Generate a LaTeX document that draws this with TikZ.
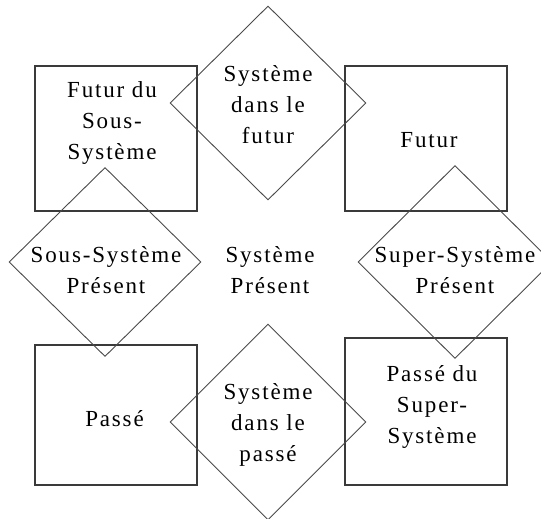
\documentclass[tikz,border=0pt]{standalone}
\usepackage{fontspec}
\setmainfont{Liberation Serif}[LetterSpace=8]
\usetikzlibrary{shapes.geometric}
\definecolor{edge1}{HTML}{3A3A3A}
\definecolor{edge2}{HTML}{4A4A4A}

\begin{document}
\begin{tikzpicture}[x=1pt,y=-1pt,
  box/.style={draw=edge1, line width=1.5pt, minimum width=162pt, inner sep=0pt},
  rhomb/.style={diamond, draw=edge2, line width=0.9pt, inner sep=0pt},
  lbl/.style={align=center, inner sep=0pt, font=\fontsize{23}{31}\selectfont}]
\clip (0,0) rectangle (541,519);
% squares
\node[box, minimum height=145pt] (sqSousFutur) at (116,138.5) {};
\node[box, minimum height=145pt] (sqFutur) at (426,138.5) {};
\node[box, minimum height=140pt] (sqPasse) at (116,415) {};
\node[box, minimum height=147pt] (sqSuperPasse) at (426,411.5) {};
% diamonds
\node[rhomb, minimum width=196pt, minimum height=194pt] (dmFutur) at (268,103) {};
\node[rhomb, minimum width=192pt, minimum height=189pt] (dmSous) at (105,262) {};
\node[rhomb, minimum width=194pt, minimum height=193pt] (dmSuper) at (455,262) {};
\node[rhomb, minimum width=196pt, minimum height=196pt] (dmPasse) at (268,422) {};
% texts
\node[lbl] (tSousFutur) at (112,122.7) {Futur du\\Sous-\\Système};
\node[lbl] (tFutur) at (429,139.9) {Futur};
\node[lbl] (tPasse) at (114.5,418.5) {Passé};
\node[lbl] (tSuperPasse) at (432,407) {Passé du\\Super-\\Système};
\node[lbl] (tSysFutur) at (268,105) {Système\\dans le\\futur};
\node[lbl] (tSous) at (106,270) {Sous-Système\\Présent};
\node[lbl] (tSysPres) at (270,270) {Système\\Présent};
\node[lbl] (tSuper) at (455,270) {Super-Système\\Présent};
\node[lbl] (tSysPasse) at (268,425.4) {Système\\dans le\\passé};
\end{tikzpicture}
\end{document}
